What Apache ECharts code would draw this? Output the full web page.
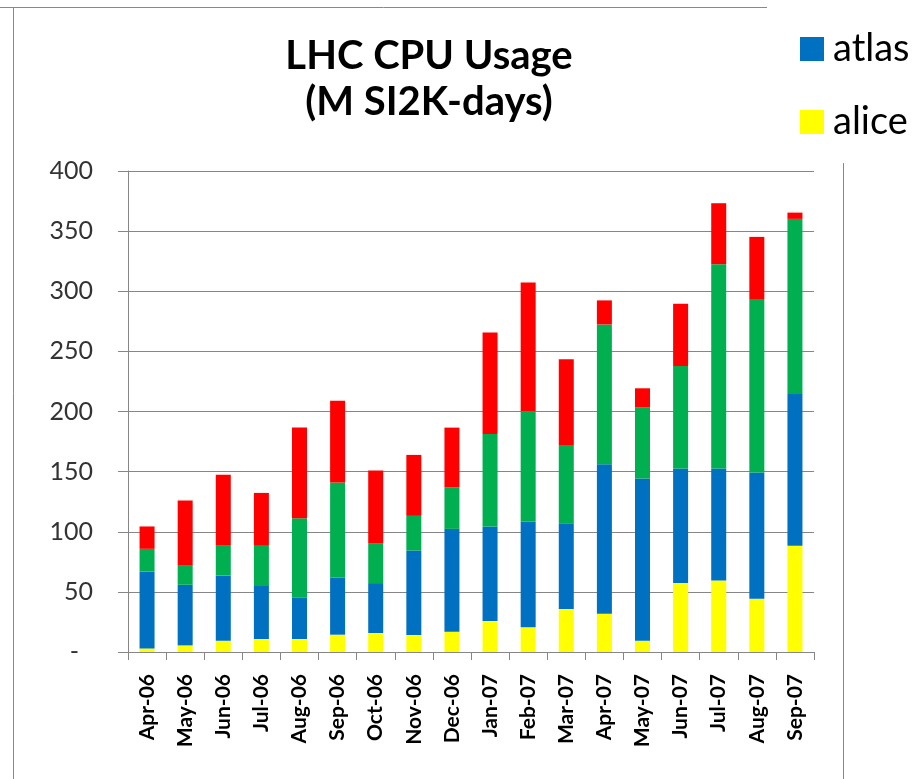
<!DOCTYPE html>
<html>
<head>
<meta charset="utf-8">
<title>LHC CPU Usage</title>
<script src="https://cdn.jsdelivr.net/npm/echarts@6/dist/echarts.min.js"></script>
<style>
  html, body { margin: 0; padding: 0; background: #fff; }
  #main { width: 921px; height: 779px; }
</style>
</head>
<body>
<div id="main"></div>
<script>
// months on the x axis
var months = ['Apr-06', 'May-06', 'Jun-06', 'Jul-06', 'Aug-06', 'Sep-06', 'Oct-06', 'Nov-06', 'Dec-06',
  'Jan-07', 'Feb-07', 'Mar-07', 'Apr-07', 'May-07', 'Jun-07', 'Jul-07', 'Aug-07', 'Sep-07'];

// M SI2K-days per experiment, stacked bottom to top
var alice = [3, 5.5, 9.4, 10.8, 10.8, 14.4, 15.8, 14.1, 16.9, 25.7, 20.5, 35.7, 31.8, 9.4, 57.3, 59.5, 44.3, 88.3];
var atlas = [64, 50.4, 54.3, 44.8, 34.6, 47.3, 41.5, 70.3, 85.5, 78.7, 88, 71.4, 124.3, 134.8, 95.2, 93, 104.9, 126.3];
var cms = [18.8, 15.8, 24.6, 32.7, 65.9, 79.2, 33.2, 28.8, 34.6, 76.9, 91.9, 64.5, 116.3, 59, 85.3, 170, 144.3, 145.6];
var lhcb = [18.6, 54.3, 59, 44, 75.3, 68.1, 60.4, 50.7, 49.6, 84.5, 106.9, 71.8, 20, 16.1, 51.8, 50.7, 51.7, 5.2];

var chart = echarts.init(document.getElementById('main'));

function bar(name, color, data) {
  return {
    name: name,
    type: 'bar',
    stack: 'cpu',
    barWidth: 15,
    itemStyle: { color: color },
    data: data
  };
}

chart.setOption({
  animation: false,
  textStyle: { fontFamily: 'Lato' },
  title: {
    text: 'LHC CPU Usage\n(M SI2K-days)',
    left: 424,
    textAlign: 'center',
    top: 28,
    textStyle: { fontSize: 40, fontWeight: 'bold', color: '#000', lineHeight: 46, fontFamily: 'Lato' }
  },
  legend: {
    data: ['atlas', 'alice'],
    orient: 'vertical',
    left: 795,
    top: 24,
    icon: 'rect',
    itemWidth: 24,
    itemHeight: 24,
    itemGap: 33,
    textStyle: { fontSize: 38, lineHeight: 40, color: '#000', padding: [0, 0, 0, 4] }
  },
  grid: { left: 128, right: 107, top: 171, bottom: 127 },
  xAxis: {
    type: 'category',
    data: months,
    axisLine: { lineStyle: { color: '#868686' } },
    axisTick: { show: true, length: 8, lineStyle: { color: '#868686' } },
    axisLabel: { rotate: 90, margin: 22, fontSize: 21, fontWeight: 'bold', color: '#000' }
  },
  yAxis: {
    type: 'value',
    min: 0,
    max: 400,
    interval: 50,
    axisLine: { show: true, lineStyle: { color: '#868686' } },
    axisTick: { show: true, length: 10, lineStyle: { color: '#868686' } },
    splitLine: { lineStyle: { color: '#868686' } },
    axisLabel: {
      margin: 35,
      fontSize: 25,
      color: '#333',
      formatter: function (v) { return v === 0 ? '{d|-}' : v; },
      rich: { d: { fontSize: 25, color: '#333', padding: [0, 14, 0, 0] } }
    }
  },
  graphic: [
    { type: 'line', shape: { x1: 0, y1: 7.5, x2: 767, y2: 7.5 }, style: { stroke: '#888', lineWidth: 1 } },
    { type: 'line', shape: { x1: 13.5, y1: 7.5, x2: 13.5, y2: 779 }, style: { stroke: '#888', lineWidth: 1 } },
    { type: 'line', shape: { x1: 843.5, y1: 163, x2: 843.5, y2: 779 }, style: { stroke: '#888', lineWidth: 1 } }
  ],
  series: [
    bar('alice', '#FFFF00', alice),
    bar('atlas', '#0070C0', atlas),
    bar('cms', '#00B050', cms),
    bar('lhcb', '#FF0000', lhcb)
  ]
});
</script>
</body>
</html>
